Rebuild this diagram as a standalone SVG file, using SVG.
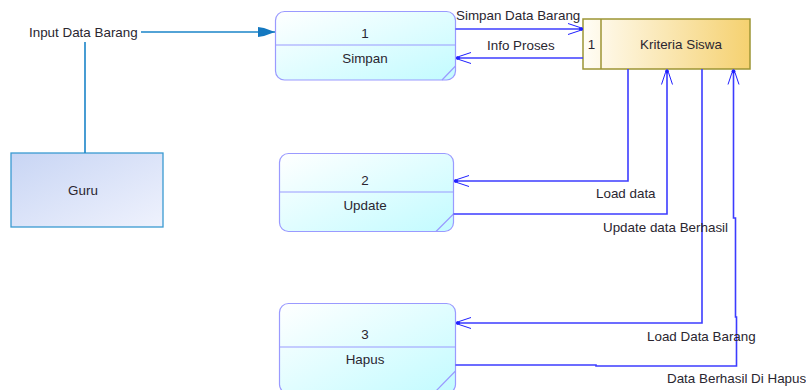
<svg xmlns="http://www.w3.org/2000/svg" width="806" height="390" viewBox="0 0 806 390">
  <defs>
    <linearGradient id="procFill" x1="0" y1="0" x2="1" y2="1">
      <stop offset="0" stop-color="#ffffff"/>
      <stop offset="1" stop-color="#c2fbff"/>
    </linearGradient>
    <linearGradient id="storeFill" x1="0" y1="0" x2="1" y2="0">
      <stop offset="0" stop-color="#fffdf6"/>
      <stop offset="1" stop-color="#f5d170"/>
    </linearGradient>
    <linearGradient id="extFill" x1="0" y1="0" x2="1" y2="1">
      <stop offset="0" stop-color="#c8d5f4"/>
      <stop offset="1" stop-color="#eff2fd"/>
    </linearGradient>
    <!-- data-flow arrowhead: dot at the tip and two open barbs -->
    <marker id="flowArrow" viewBox="-18 -8 20 16" refX="0" refY="0" markerWidth="20" markerHeight="16" markerUnits="userSpaceOnUse" orient="auto">
      <circle cx="-2" cy="0" r="2" fill="#2020ff"/>
      <path d="M-3,-1.5 L-15,-5.5 M-3,1.5 L-15,5.5" stroke="#2020ff" stroke-width="1" fill="none"/>
    </marker>
    <!-- solid arrowhead for the entity input flow -->
    <marker id="inputArrow" viewBox="-18 -7 20 14" refX="0" refY="0" markerWidth="20" markerHeight="14" markerUnits="userSpaceOnUse" orient="auto">
      <path d="M-17,-5 L-11,-4 L0,0 L-11,4 L-17,5 Z" fill="#1478c0"/>
    </marker>
  </defs>
  <style>
    text { font-family: "Liberation Sans", Arial, sans-serif; font-size: 13.4px; fill: #2a2630; }
    .mid { text-anchor: middle; }
    .proc { fill: url(#procFill); stroke: #9a9aff; stroke-width: 1.2; }
    .procLine { stroke: #9a9aff; stroke-width: 1.2; fill: none; }
    .store { fill: url(#storeFill); stroke: #9c9534; stroke-width: 1.5; }
    .ext { fill: url(#extFill); stroke: #3a9ad2; stroke-width: 1.3; }
    .flow { fill: none; stroke: #3c3cff; stroke-width: 1.6; }
    .input { fill: none; stroke: #1a84c8; stroke-width: 1.6; }
  </style>

  <!-- external entity -->
  <g id="guru">
    <rect class="ext" x="11" y="153" width="152" height="74"/>
    <text class="mid" x="83" y="194.5">Guru</text>
  </g>

  <!-- process 1 -->
  <g id="proses-simpan">
    <rect class="proc" x="275.5" y="11.5" width="180" height="68.5" rx="9" ry="9"/>
    <path class="procLine" d="M275.5,45 H455.5 M442,80 L455.5,66"/>
    <text class="mid" x="365" y="37.5">1</text>
    <text class="mid" x="365" y="62.5">Simpan</text>
  </g>

  <!-- process 2 -->
  <g id="proses-update">
    <rect class="proc" x="279.5" y="153.5" width="174" height="78" rx="9" ry="9"/>
    <path class="procLine" d="M279.5,192 H453.5 M436,231.5 L453.5,214"/>
    <text class="mid" x="365" y="184.5">2</text>
    <text class="mid" x="365" y="209.5">Update</text>
  </g>

  <!-- process 3 -->
  <g id="proses-hapus">
    <rect class="proc" x="279.5" y="303.5" width="176" height="90" rx="9" ry="9"/>
    <path class="procLine" d="M279.5,347 H455.5 M434,393 L455.5,371"/>
    <text class="mid" x="365" y="338.5">3</text>
    <text class="mid" x="365" y="363.5">Hapus</text>
  </g>

  <!-- data store -->
  <g id="store-kriteria-siswa">
    <rect class="store" x="583" y="19" width="167" height="50"/>
    <line x1="601" y1="19" x2="601" y2="69" stroke="#9c9534" stroke-width="1.5"/>
    <text class="mid" x="591.5" y="48.5">1</text>
    <text class="mid" x="681" y="48.5">Kriteria Siswa</text>
  </g>

  <!-- data flows -->
  <g id="connectors">
    <path class="input" d="M141,32 H275" marker-end="url(#inputArrow)"/>
    <path class="input" d="M85,42 V153"/>
    <path class="flow" d="M455.5,29 H583" marker-end="url(#flowArrow)"/>
    <path class="flow" d="M583,58 H456" marker-end="url(#flowArrow)"/>
    <path class="flow" d="M628,69 V181 H454" marker-end="url(#flowArrow)"/>
    <path class="flow" d="M453.5,214 H667 V69.5" marker-end="url(#flowArrow)"/>
    <path class="flow" d="M702,69 V323 H456" marker-end="url(#flowArrow)"/>
    <path class="flow" d="M455.5,365 H596 V366 H736.5 V317 H735.5 V218 H733.5 V69.5" marker-end="url(#flowArrow)"/>
  </g>

  <!-- flow labels -->
  <g id="labels">
    <text x="29" y="36.5">Input Data Barang</text>
    <text x="456" y="20">Simpan Data Barang</text>
    <text x="487" y="50">Info Proses</text>
    <text x="596" y="197.5">Load data</text>
    <text x="603" y="231.5">Update data Berhasil</text>
    <text x="647" y="340.5">Load Data Barang</text>
    <text x="667" y="382.5">Data Berhasil Di Hapus</text>
  </g>
</svg>
